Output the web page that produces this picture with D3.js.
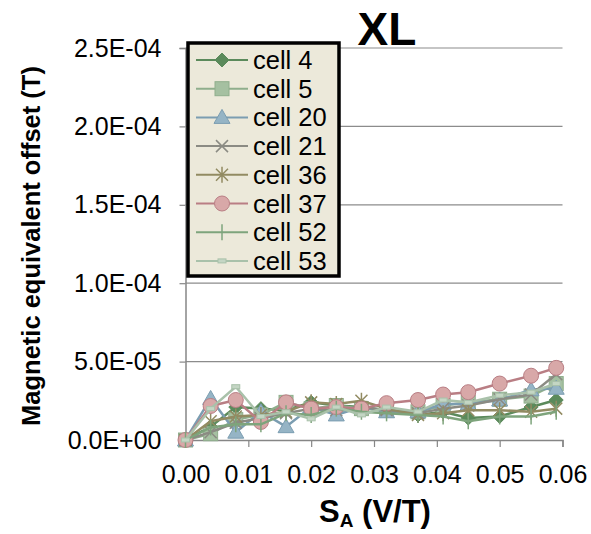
<!DOCTYPE html>
<html>
<head>
<meta charset="utf-8">
<script src="https://cdn.jsdelivr.net/npm/d3@7"></script>
<style>
  body { margin: 0; background: #fff; }
  text { font-family: "Liberation Sans", Arial, sans-serif; }
</style>
</head>
<body>
<svg id="chart" width="591" height="534"></svg>
<script>
// S_A values (V/T)
const sa = [0, 0.004, 0.008, 0.012, 0.016, 0.020, 0.024, 0.028, 0.032, 0.037, 0.041, 0.045, 0.050, 0.055, 0.059]
// offsets in units of 1e-5 T
const cell4  = [0, 0.85, 2.1, 2.0, 1.9, 2.4, 2.2, 2.1, 1.9, 1.6, 1.8, 1.4, 1.5, 2.1, 2.55]
const cell5  = [0, 0.4, 1.3, 1.6, 2.4, 2.0, 2.2, 2.0, 1.9, 1.8, 2.2, 2.4, 2.6, 2.8, 3.6]
const cell20 = [0, 2.65, 0.5, 1.8, 0.85, 2.1, 1.6, 2.1, 1.8, 1.8, 2.3, 2.3, 2.55, 3.2, 3.3]
const cell21 = [0, 0.5, 1.1, 1.4, 1.7, 2.0, 1.9, 2.1, 1.9, 1.7, 2.0, 2.2, 2.6, 2.9, 4.2]
const cell36 = [0, 1.2, 1.5, 1.6, 1.8, 2.4, 2.3, 2.5, 2.0, 1.6, 1.7, 1.9, 1.9, 1.8, 2.0]
const cell37 = [0, 2.17, 2.55, 1.15, 2.4, 2.0, 2.1, 2.0, 2.35, 2.55, 2.9, 3.05, 3.6, 4.1, 4.6]
const cell52 = [0, 0.8, 1.0, 1.0, 1.7, 1.6, 2.0, 1.8, 1.7, 1.6, 1.5, 1.2, 1.5, 1.5, 1.8]
const cell53 = [0, 2.0, 3.4, 1.5, 1.8, 1.35, 2.1, 1.6, 2.1, 1.8, 2.55, 2.4, 2.85, 3.05, 3.6]

const yTicks = [0, 5e-5, 1e-4, 1.5e-4, 2e-4, 2.5e-4]
const yTickLabels = ['0.0E+00', '5.0E-05', '1.0E-04', '1.5E-04', '2.0E-04', '2.5E-04']
const xTicks = [0, 0.01, 0.02, 0.03, 0.04, 0.05, 0.06]

const series = [
  {name: 'cell 4',  vals: cell4,  line: '#5b8a5b', fill: '#5b8a5b', shape: 'diamond'},
  {name: 'cell 5',  vals: cell5,  line: '#8fae8c', fill: '#a5c0a1', shape: 'square'},
  {name: 'cell 20', vals: cell20, line: '#7b9db1', fill: '#95b4c5', shape: 'triangle'},
  {name: 'cell 21', vals: cell21, line: '#8b8b83', fill: 'none',    shape: 'x'},
  {name: 'cell 36', vals: cell36, line: '#928b62', fill: 'none',    shape: 'star'},
  {name: 'cell 37', vals: cell37, line: '#b97e84', fill: '#d8a8a8', shape: 'circle'},
  {name: 'cell 52', vals: cell52, line: '#7ea47c', fill: 'none',    shape: 'plus'},
  {name: 'cell 53', vals: cell53, line: '#a9c1aa', fill: '#c4d6c4', shape: 'dash'}
]

const svg = d3.select('#chart')
const x = d3.scaleLinear().domain([0, 0.06]).range([185.5, 562.5])
const y = d3.scaleLinear().domain([0, 2.5e-4]).range([440, 48])

// gridlines
svg.append('g').selectAll('line').data(yTicks.slice(1)).join('line')
  .attr('x1', x(0)).attr('x2', x(0.06))
  .attr('y1', d => y(d)).attr('y2', d => y(d))
  .attr('stroke', '#8c8c8c').attr('stroke-width', 1.2)

// y axis
const yAxis = d3.axisLeft(y).tickValues(yTicks).tickSize(6)
  .tickFormat((d, i) => yTickLabels[i])
const gy = svg.append('g').attr('transform', `translate(${x(0)},0)`).call(yAxis)
  .attr('font-size', 25).attr('font-family', '"Liberation Sans", Arial, sans-serif')
gy.select('.domain').attr('stroke', '#868686').attr('stroke-width', 1.5)
gy.selectAll('.tick line').attr('stroke', '#868686').attr('stroke-width', 1.2)
gy.selectAll('.tick text').attr('fill', '#000').attr('x', -24)

// x axis
const xAxis = d3.axisBottom(x).tickValues(xTicks).tickSize(7).tickFormat(d3.format('.2f'))
const gx = svg.append('g').attr('transform', `translate(0,${y(0)})`).call(xAxis)
  .attr('font-size', 25).attr('font-family', '"Liberation Sans", Arial, sans-serif')
gx.select('.domain').attr('stroke', '#868686').attr('stroke-width', 1.5)
gx.selectAll('.tick line').attr('stroke', '#868686').attr('stroke-width', 1.2)
gx.selectAll('.tick text').attr('fill', '#000').attr('y', 25).attr('dy', '0.71em')

function marker(g, shape, s) {
  const c = s.line
  if (shape === 'diamond') g.append('path').attr('d', 'M0,-7L7,0L0,7L-7,0Z').attr('fill', s.fill).attr('stroke', c)
  else if (shape === 'square') g.append('rect').attr('x', -7).attr('y', -7).attr('width', 14).attr('height', 14).attr('fill', s.fill).attr('stroke', c)
  else if (shape === 'triangle') g.append('path').attr('d', 'M0,-8L8,6L-8,6Z').attr('fill', s.fill).attr('stroke', c)
  else if (shape === 'x') g.append('path').attr('d', 'M-6,-6L6,6M-6,6L6,-6').attr('stroke', c).attr('stroke-width', 1.5)
  else if (shape === 'star') g.append('path').attr('d', 'M-6,-6L6,6M-6,6L6,-6M0,-8L0,8').attr('stroke', c).attr('stroke-width', 1.5)
  else if (shape === 'circle') g.append('circle').attr('r', 7.5).attr('fill', s.fill).attr('stroke', c)
  else if (shape === 'plus') g.append('path').attr('d', 'M0,-8L0,8').attr('stroke', c).attr('stroke-width', 1.5)
  else if (shape === 'dash') g.append('rect').attr('x', -4).attr('y', -2).attr('width', 8).attr('height', 4).attr('fill', s.fill).attr('stroke', c)
}

const line = d3.line().x((d, i) => x(sa[i])).y(d => y(d * 1e-5))
const plot = svg.append('g')
series.forEach(s => {
  plot.append('path').datum(s.vals).attr('d', line)
    .attr('fill', 'none').attr('stroke', s.line).attr('stroke-width', 2.5)
  s.vals.forEach((v, i) => {
    const g = plot.append('g').attr('transform', `translate(${x(sa[i])},${y(v * 1e-5)})`)
    marker(g, s.shape, s)
  })
})

// legend
const lg = svg.append('g')
lg.append('rect').attr('x', 188).attr('y', 43).attr('width', 151).attr('height', 233)
  .attr('fill', '#ece9da').attr('stroke', '#000').attr('stroke-width', 3.5)
series.forEach((s, i) => {
  const yy = 60 + i * 28.7
  lg.append('line').attr('x1', 196).attr('x2', 248).attr('y1', yy).attr('y2', yy)
    .attr('stroke', s.line).attr('stroke-width', 2)
  marker(lg.append('g').attr('transform', `translate(222,${yy})`), s.shape, s)
  lg.append('text').attr('x', 253).attr('y', yy + 9).attr('font-size', 25.5).text(s.name)
})

// titles
svg.append('text').attr('x', 387).attr('y', 45).attr('text-anchor', 'middle')
  .attr('font-size', 46).attr('font-weight', 'bold').text('XL')

const xl = svg.append('text').attr('x', 375).attr('y', 522).attr('text-anchor', 'middle')
  .attr('font-size', 31).attr('font-weight', 'bold')
xl.append('tspan').text('S')
xl.append('tspan').attr('font-size', 19).attr('dy', 5).text('A')
xl.append('tspan').attr('dy', -5).text(' (V/T)')

svg.append('text').attr('transform', 'translate(40,246) rotate(-90)').attr('text-anchor', 'middle')
  .attr('font-size', 25.5).attr('font-weight', 'bold').text('Magnetic equivalent offset (T)')
</script>
</body>
</html>
